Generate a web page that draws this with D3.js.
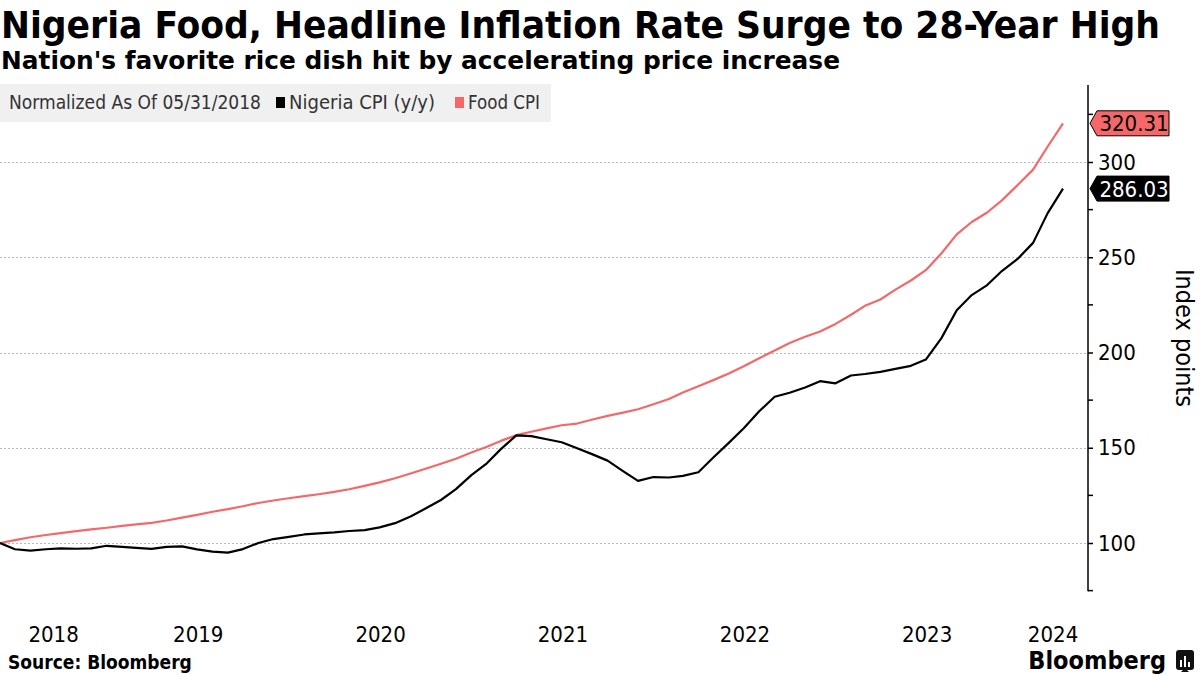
<!DOCTYPE html>
<html><head><meta charset="utf-8">
<script src="https://cdn.jsdelivr.net/npm/d3@7"></script>
<style>
body{margin:0;background:#fff;}
svg{display:block;}
.narrow{font-family:"Liberation Sans Narrow","DejaVu Sans Condensed","Roboto Condensed",sans-serif;}
</style></head>
<body>
<svg id="c" width="1200" height="675"></svg>
<script>
const months = ["2018-05","2018-06","2018-07","2018-08","2018-09","2018-10","2018-11","2018-12",
"2019-01","2019-02","2019-03","2019-04","2019-05","2019-06","2019-07","2019-08","2019-09","2019-10","2019-11","2019-12",
"2020-01","2020-02","2020-03","2020-04","2020-05","2020-06","2020-07","2020-08","2020-09","2020-10","2020-11","2020-12",
"2021-01","2021-02","2021-03","2021-04","2021-05","2021-06","2021-07","2021-08","2021-09","2021-10","2021-11","2021-12",
"2022-01","2022-02","2022-03","2022-04","2022-05","2022-06","2022-07","2022-08","2022-09","2022-10","2022-11","2022-12",
"2023-01","2023-02","2023-03","2023-04","2023-05","2023-06","2023-07","2023-08","2023-09","2023-10","2023-11","2023-12",
"2024-01","2024-02","2024-03"];

const nigeriaCPI = [100.00,96.73,95.95,96.73,97.16,96.99,97.16,98.54,
97.93,97.42,96.90,97.93,98.19,96.64,95.43,94.92,96.81,100.00,102.07,103.19,
104.48,105.08,105.60,106.29,106.80,108.18,110.42,113.87,118.09,122.57,128.25,135.66,
141.86,149.27,156.50,156.07,154.44,152.89,149.70,146.51,143.24,137.73,132.64,134.63,
134.37,135.23,137.12,144.87,152.54,160.21,169.16,176.74,178.90,181.65,184.93,183.81,
187.94,188.72,189.84,191.39,193.02,196.30,207.41,222.22,230.15,235.40,242.89,249.10,
257.54,273.04,286.03];

const foodCPI = [100.0,101.5,103.0,104.2,105.2,106.2,107.2,108.0,
109.0,109.8,110.6,111.8,113.3,114.8,116.4,117.8,119.3,121.0,122.3,123.5,
124.6,125.6,126.8,128.2,130.0,131.8,134.0,136.5,139.0,141.6,144.2,147.5,
150.5,153.6,156.6,158.4,160.2,161.8,162.7,164.8,166.7,168.4,170.2,172.8,
175.6,179.0,182.3,185.5,189.0,192.8,197.0,201.0,205.0,208.3,211.0,215.0,
219.8,224.5,227.8,233.0,237.8,243.2,252.0,262.0,268.5,273.5,280.0,287.9,
296.0,308.0,320.31];

const yTicks = [100,150,200,250,300];
const yMinorTicks = [75,125,175,225,275,325];
const yearLabels = ["2018","2019","2020","2021","2022","2023","2024"];
const seriesNames = ["Nigeria CPI (y/y)","Food CPI"];
const legendTitle = "Normalized As Of 05/31/2018";

const svg = d3.select("#c");
const parse = d3.timeParse("%Y-%m");
const dates = months.map(s => d3.timeDay.offset(d3.timeMonth.offset(parse(s),1),-1));

const plotLeft = 0, axisX = 1088;
const x = d3.scaleTime().domain([dates[0], dates[dates.length-1]]).range([0, 1063]);
const y = d3.scaleLinear().domain([100,300]).range([543,162]);
const yAxisTop = 85, yAxisBottom = y(75)+0.5;

const RED = "#f4686a";

// Title
svg.append("text").attr("class","narrow").attr("x",1).attr("y",38)
  .attr("font-size",38).attr("font-weight","bold").attr("fill","#000")
  .attr("textLength",1159).attr("lengthAdjust","spacingAndGlyphs")
  .text("Nigeria Food, Headline Inflation Rate Surge to 28-Year High");
svg.append("text").attr("class","narrow").attr("x",1).attr("y",69)
  .attr("font-size",24).attr("font-weight","bold").attr("fill","#000")
  .attr("textLength",839).attr("lengthAdjust","spacingAndGlyphs")
  .text("Nation's favorite rice dish hit by accelerating price increase");

// Legend
const lg = svg.append("g");
lg.append("rect").attr("x",0).attr("y",84).attr("width",551).attr("height",38).attr("fill","#f0f0f0");
lg.append("text").attr("class","narrow").attr("x",9).attr("y",109).attr("font-size",19).attr("fill","#333")
  .attr("textLength",252).attr("lengthAdjust","spacingAndGlyphs").text(legendTitle);
lg.append("rect").attr("x",276).attr("y",97).attr("width",9).attr("height",11).attr("fill","#000");
lg.append("text").attr("class","narrow").attr("x",289).attr("y",109).attr("font-size",19).attr("fill","#333")
  .attr("textLength",146).attr("lengthAdjust","spacingAndGlyphs").text(seriesNames[0]);
lg.append("rect").attr("x",455).attr("y",97).attr("width",9).attr("height",11).attr("fill",RED);
lg.append("text").attr("class","narrow").attr("x",468).attr("y",109).attr("font-size",19).attr("fill","#333")
  .attr("textLength",72).attr("lengthAdjust","spacingAndGlyphs").text(seriesNames[1]);

// Gridlines
svg.append("g").selectAll("line").data(yTicks).join("line")
  .attr("x1",plotLeft).attr("x2",axisX).attr("y1",d=>Math.round(y(d))+0.5).attr("y2",d=>Math.round(y(d))+0.5)
  .attr("stroke","#bbb").attr("stroke-width",1).attr("stroke-dasharray","2,2");

// Y axis (right)
const yAxis = d3.axisRight(y).tickValues(yTicks).tickSize(5).tickPadding(5).tickFormat(d3.format("d"));
const ya = svg.append("g").attr("transform",`translate(${axisX},0)`).call(yAxis);
ya.select(".domain").remove();
ya.append("line").attr("x1",0).attr("x2",0).attr("y1",yAxisTop).attr("y2",yAxisBottom).attr("stroke","#000").attr("stroke-width",1.5);
ya.selectAll(".tick line").attr("stroke","#000").attr("stroke-width",1.5);
ya.selectAll(".tick text").attr("font-family","'Liberation Sans Narrow','DejaVu Sans Condensed',sans-serif").attr("font-size",22).attr("fill","#000");
ya.append("g").selectAll("line").data(yMinorTicks).join("line")
  .attr("x1",0).attr("x2",5).attr("y1",d=>y(d)).attr("y2",d=>y(d)).attr("stroke","#000").attr("stroke-width",1.5);

svg.append("text").attr("class","narrow")
  .attr("transform",`translate(1176,338) rotate(90)`).attr("text-anchor","middle")
  .attr("font-size",25).attr("fill","#000").text("Index points");

// Lines
const line = d3.line().x((d,i)=>x(dates[i])).y(d=>y(d));
svg.append("path").datum(foodCPI).attr("d",line).attr("fill","none").attr("stroke",RED).attr("stroke-width",2.2).attr("stroke-linejoin","round");
svg.append("path").datum(nigeriaCPI).attr("d",line).attr("fill","none").attr("stroke","#000").attr("stroke-width",2.2).attr("stroke-linejoin","round");

// Value tags
function tag(val, fill, textFill){
  const cy = y(val);
  const g = svg.append("g");
  const x0 = axisX+2, x1 = axisX+9, x2 = 1169, h = 12.5;
  g.append("path").attr("d",`M${x0},${cy} L${x1},${cy-h} L${x2},${cy-h} L${x2},${cy+h} L${x1},${cy+h} Z`)
    .attr("fill",fill).attr("stroke","#000").attr("stroke-width",1);
  g.append("text").attr("class","narrow").attr("x",(x1+x2)/2+1).attr("y",cy+8).attr("text-anchor","middle")
    .attr("font-size",22).attr("fill",textFill).text(d3.format(".2f")(val));
}
tag(foodCPI[foodCPI.length-1], RED, "#000");
tag(nigeriaCPI[nigeriaCPI.length-1], "#000", "#fff");

// X year labels (centered in each year's span)
const xEnd = axisX;
svg.append("g").selectAll("text").data(yearLabels).join("text")
  .attr("class","narrow")
  .attr("x", yr => {
    const a = Math.max(0, x(new Date(+yr,0,1)));
    const b = Math.min(xEnd, x(new Date(+yr+1,0,1)));
    return (a+b)/2;
  })
  .attr("y",642).attr("text-anchor","middle").attr("font-size",22).attr("fill","#000")
  .text(d=>d);

// Footer
svg.append("text").attr("class","narrow").attr("x",8).attr("y",669).attr("font-size",19).attr("font-weight","bold")
  .attr("fill","#000").text("Source: Bloomberg");
svg.append("text").attr("class","narrow").attr("x",1166).attr("y",669).attr("text-anchor","end")
  .attr("font-size",25).attr("font-weight","bold").attr("fill","#000").text("Bloomberg");
const ic = svg.append("g");
ic.append("rect").attr("x",1176).attr("y",650).attr("width",18).attr("height",20).attr("rx",3).attr("fill","#111");
ic.append("path").attr("d","M1181,672 L1185,668 L1189,672 Z").attr("fill","#111");
[[1180,660,2,7],[1184,656,2,11],[1188,662,2,5]].forEach(b=>ic.append("rect").attr("x",b[0]).attr("y",b[1]).attr("width",b[2]).attr("height",b[3]).attr("fill","#fff"));
</script>
</body></html>
